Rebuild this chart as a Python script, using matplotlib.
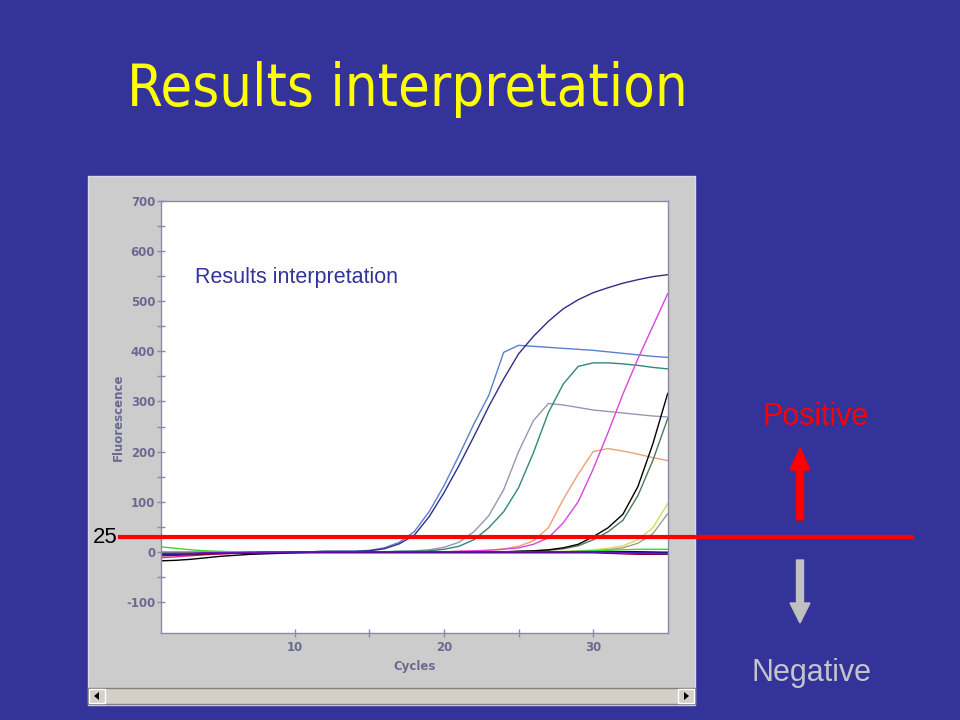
import matplotlib
matplotlib.use("Agg")
import matplotlib.pyplot as plt
from matplotlib.patches import Rectangle, Polygon, FancyArrow

# cycle axis and the amplification curves (fluorescence per cycle)
cycles = list(range(1, 36))

navy = [-6, -5, -4, -3, -2, -1, -1, 0, 0, 0, 0, 1, 1, 1, 2, 6, 16, 33, 70, 118,
        172, 230, 290, 345, 395, 430, 460, 485, 503, 517, 527, 536, 543, 549, 553]
light_blue = [-2, -2, -1, -1, 0, 0, 0, 0, 0, 0, 0, 1, 1, 1, 3, 8, 19, 40, 80, 132,
              192, 255, 312, 398, 412, 410, 408, 406, 404, 402, 399, 396, 393, 390, 388]
grey_violet = [-3, -2, -2, -1, -1, 0, 0, 0, 0, 0, 0, 0, 0, 0, 0, 0, 1, 2, 4, 9,
               19, 40, 72, 124, 200, 262, 296, 293, 288, 283, 280, 277, 274, 271, 269]
teal = [0, 0, 0, 0, 0, 0, 0, 0, 0, 0, 0, 0, 0, 0, 0, 0, 1, 1, 2, 5,
        11, 24, 48, 80, 128, 198, 278, 335, 370, 377, 377, 375, 372, 368, 365]
orange = [0, 0, 0, 0, 0, 0, 0, 0, 0, 0, 0, 0, 0, 0, 0, 0, 0, 0, 0, 0,
          1, 2, 3, 6, 11, 22, 48, 105, 155, 200, 206, 201, 195, 188, 182]
magenta = [-4, -4, -3, -3, -2, -2, -1, -1, 0, 0, 0, 0, 0, 0, 0, 0, 0, 0, 0, 0,
           1, 2, 3, 5, 8, 15, 28, 58, 100, 165, 238, 315, 385, 450, 515]
black = [-3, -3, -2, -2, -1, -1, 0, 0, 0, 0, 0, 0, 0, 0, 0, 0, 0, 0, 0, 0,
         0, 0, 0, 0, 1, 2, 4, 8, 15, 30, 48, 75, 130, 215, 316]
dark_green = [0, 0, 0, 0, 0, 0, 0, 0, 0, 0, 0, 0, 0, 0, 0, 0, 0, 0, 0, 0,
              0, 0, 0, 0, 1, 2, 3, 6, 12, 24, 40, 63, 112, 182, 266]
yellow = [0, 0, 0, 0, 0, 0, 0, 0, 0, 0, 0, 0, 0, 0, 0, 0, 0, 0, 0, 0,
          0, 0, 0, 0, 0, 0, 0, 1, 2, 4, 7, 12, 24, 48, 96]
olive = [0, 0, 0, 0, 0, 0, 0, 0, 0, 0, 0, 0, 0, 0, 0, 0, 0, 0, 0, 0,
         0, 0, 0, 0, 0, 0, 0, 0, 1, 2, 4, 8, 17, 36, 76]

# negative samples staying on the baseline
green_flat = [10, 7, 4, 2, 1, 0, 0, 0, 0, 0, 0, 0, 0, 0, 0, 0, 0, 0, 0, 0,
              0, 0, 0, 0, 0, 0, 0, 0, 1, 2, 3, 4, 5, 5, 5]
black_flat = [-18, -17, -15, -12, -9, -7, -5, -4, -3, -2, -1, -1, 0, 0, 0, 0, 0, 0, 0, 0,
              0, 0, 0, 0, 0, 0, 0, 0, 0, 0, 0, 0, 0, -1, -2]
purple_flat = [-3, -3, -3, -2, -2, -2, -1, -1, -1, 0, 0, 0, 0, 0, 0, 0, 0, 0, 0, 0,
               0, 0, 0, 0, 0, 0, 0, 0, 0, 0, -1, -2, -3, -3, -4]
maroon_flat = [-8, -7, -6, -5, -4, -3, -3, -2, -2, -2, -2, -2, -2, -2, -2, -2, -2, -2, -2, -2,
               -2, -2, -2, -2, -2, -2, -2, -2, -2, -2, -3, -4, -5, -5, -5]
pink_flat = [-12, -10, -8, -6, -4, -3, -2, -1, -1, 0, 0, 0, 0, 0, 0, 0, 0, 0, 0, 0,
             0, 0, 0, 0, 0, 0, 0, 0, 0, 0, 0, 0, 0, 0, 0]
blue_flat = [-5, -4, -4, -3, -3, -2, -2, -1, -1, -1, 0, 0, 0, 0, 0, 0, 0, 0, 0, 0,
             0, 0, 0, 0, 0, 0, 0, 0, 0, -1, -1, -1, -2, -2, -2]

series = [
    (light_blue, "#5b7fcc"),
    (grey_violet, "#9a94b4"),
    (teal, "#2f8878"),
    (orange, "#f0a070"),
    (magenta, "#dd44dd"),
    (dark_green, "#4a7a58"),
    (black, "#000000"),
    (yellow, "#d8d860"),
    (olive, "#a0a088"),
    (navy, "#2e2e88"),
    (green_flat, "#33dd33"),
    (pink_flat, "#dd3399"),
    (black_flat, "#000000"),
    (maroon_flat, "#880033"),
    (blue_flat, "#1a1aaa"),
    (purple_flat, "#7010c8"),
]

threshold = 29
threshold_label = "25"

y_major = [-100, 0, 100, 200, 300, 400, 500, 600, 700]
y_minor = [-50, 50, 150, 250, 350, 450, 550, 650]
x_major = [10, 20, 30]
x_minor = [15, 25]

SLIDE = "#333399"
AXIS_GREY = "#8a8aa4"
LABEL_COL = "#6a6a90"

fig = plt.figure(figsize=(9.6, 7.2), dpi=100, facecolor=SLIDE)

# background layer in pixel coordinates: instrument window and scroll bar
bg = fig.add_axes([0, 0, 1, 1], zorder=0)
bg.set_xlim(0, 960)
bg.set_ylim(720, 0)
bg.axis("off")
bg.add_patch(Rectangle((88, 176), 607, 529, fc="#cccccc", ec="#d8d8ee", lw=1))
bg.add_patch(Rectangle((88, 688), 607, 16, fc="#d4d0c8", ec="#808080", lw=1))
for bx in (89, 678):
    bg.add_patch(Rectangle((bx, 689), 16, 14, fc="#d4d0c8", ec="#ffffff", lw=1))
bg.add_patch(Polygon([[94, 696], [99, 692], [99, 700]], closed=True, fc="black"))
bg.add_patch(Polygon([[689, 696], [684, 692], [684, 700]], closed=True, fc="black"))

# positive / negative arrows
bg.add_patch(FancyArrow(800, 520, 0, -72, width=7, head_width=20, head_length=22,
                        length_includes_head=True, color="#ff0000"))
bg.add_patch(FancyArrow(800, 560, 0, 63, width=7, head_width=20, head_length=20,
                        length_includes_head=True, color="#c0c0c0"))
bg.text(816, 417, "Positive", color="#ff0000", fontsize=22, ha="center", va="center",
        family="Liberation Sans")
bg.text(812, 673, "Negative", color="#c4c4cc", fontsize=22, ha="center", va="center",
        family="Liberation Sans")

fig.text(0.424, 1 - 90 / 720, "Results interpretation", color="#ffff00", fontsize=41.5,
         ha="center", va="center", family="DejaVu Sans", fontstretch="condensed")

# the amplification plot
ax = fig.add_axes([160.7 / 960, 1 - 633 / 720, 507 / 960, 432 / 720], zorder=1)
ax.set_facecolor("white")
for values, color in series:
    ax.plot(cycles, values, color=color, lw=1.0)

ax.set_xlim(1, 35)
ax.set_ylim(-162, 700)
ax.set_xticks(x_major)
ax.set_xticks(x_minor, minor=True)
ax.set_yticks(y_major)
ax.set_yticks(y_minor, minor=True)
ax.set_xticklabels([str(v) for v in x_major], fontweight="bold")
ax.set_yticklabels([str(v) for v in y_major], fontweight="bold")
ax.tick_params(which="both", direction="inout", length=6, width=1, color=AXIS_GREY,
               labelcolor=LABEL_COL, labelsize=8.5)
ax.tick_params(axis="y", pad=1)
ax.tick_params(axis="x", pad=3)
for spine in ax.spines.values():
    spine.set_color(AXIS_GREY)
    spine.set_linewidth(1)

ax.set_xlabel("Cycles", color=LABEL_COL, fontsize=8.5, fontweight="bold", labelpad=4)
ax.set_ylabel("Fluorescence", color=LABEL_COL, fontsize=8.5, fontweight="bold", labelpad=1)
ax.text(0.068, 0.824, "Results interpretation", transform=ax.transAxes, color="#333399",
        fontsize=15.5, ha="left", va="center", family="Liberation Sans")

# threshold line running out of the plot on both sides
ax.axhline(threshold, xmin=(120 - 160.7) / 507, xmax=(912 - 160.7) / 507,
           color="#ff0000", lw=3, clip_on=False, zorder=10)
ax.text((118 - 160.7) / 507, threshold, threshold_label, transform=ax.get_yaxis_transform(),
        ha="right", va="center", fontsize=16, color="black", family="Liberation Sans")

fig.savefig("out.png", dpi=100, facecolor=SLIDE)
